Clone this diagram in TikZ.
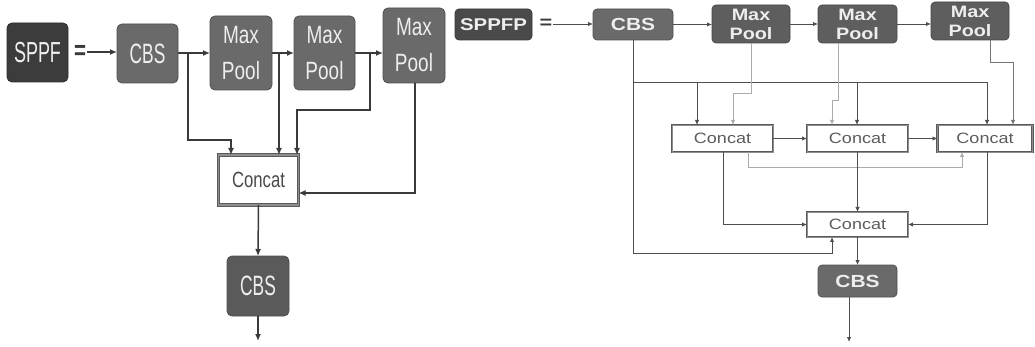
\documentclass[tikz,border=0pt]{standalone}
\usepackage{fontspec}
\usetikzlibrary{arrows.meta,calc}
\newfontfamily\lfont[FakeStretch=0.76]{Liberation Sans}
\newfontfamily\lfontn[FakeStretch=0.62]{Liberation Sans}
\newfontfamily\rfont[FakeStretch=1.2]{Liberation Sans}
\definecolor{darkbox}{HTML}{3C3C3C}
\definecolor{midbox}{HTML}{6A6A6A}
\definecolor{rdark}{HTML}{4A4A4A}
\definecolor{rmid}{HTML}{5E5E5E}
\definecolor{boxtext}{HTML}{EEEEEE}
\definecolor{lineblk}{HTML}{3A3A3A}
\definecolor{linegray}{HTML}{ABABAB}
\definecolor{cbord}{HTML}{5A5A5A}
\definecolor{cinner}{HTML}{8E8E8E}
\definecolor{ctext}{HTML}{4A4A4A}
\begin{document}
\begin{tikzpicture}[x=1pt,y=-1pt,
  every node/.style={inner sep=0pt, outer sep=0pt, align=center},
  lbox/.style={rounded corners=5pt, fill=midbox, draw=midbox!75!black, line width=0.8pt, text=boxtext,
    font=\lfont\fontsize{25}{36}\selectfont},
  ldarkbox/.style={lbox, fill=darkbox, draw=darkbox!75!black, font=\lfontn\fontsize{29}{30}\selectfont},
  lconcat/.style={draw=cbord, line width=1.2pt, double=cinner, double distance=1.4pt, fill=white, text=ctext,
    font=\lfont\fontsize{22}{26}\selectfont},
  rbox/.style={rounded corners=4pt, fill=rmid, draw=rmid!75!black, line width=0.7pt, text=boxtext,
    font=\rfont\bfseries\fontsize{16.5}{19}\selectfont},
  rcbs/.style={rbox, fill=midbox, draw=midbox!75!black, font=\rfont\bfseries\fontsize{17.5}{20}\selectfont},
  rdarkbox/.style={rbox, fill=rdark, draw=rdark!75!black, font=\rfont\bfseries\fontsize{17}{20}\selectfont},
  rconcat/.style={draw=cbord, line width=0.9pt, double=cinner, double distance=0.8pt, fill=white, text=ctext!90!white,
    font=\rfont\fontsize{15}{17}\selectfont},
  eqsign/.style={inner sep=1pt, text=lineblk},
  lline/.style={draw=lineblk, line width=1.5pt},
  larrow/.style={lline, -{Latex[length=7pt,width=6pt]}},
  rline/.style={draw=lineblk!90!white, line width=0.9pt},
  rarrow/.style={rline, -{Latex[length=5pt,width=4.5pt]}},
  rgray/.style={draw=linegray, line width=0.9pt, -{Latex[length=5pt,width=4.5pt]}}
]
\useasboundingbox (0,0) rectangle (1035,347);
\fill[white] (0,0) rectangle (1035,347);

% ---------------- left panel: SPPF ----------------
\node[ldarkbox, minimum width=61, minimum height=59] (sppf) at (37.5,52.5) {SPPF};
\node[eqsign, font=\lfont\bfseries\fontsize{27}{30}\selectfont] (eqL) at (80,52) {=};
\node[lbox, font=\lfontn\fontsize{28}{30}\selectfont, minimum width=61, minimum height=59] (cbsL) at (147.5,53.5) {CBS};
\node[lbox, minimum width=62, minimum height=74] (mp1L) at (241,53) {Max\\Pool};
\node[lbox, minimum width=61, minimum height=74] (mp2L) at (324.5,53) {Max\\Pool};
\node[lbox, minimum width=62, minimum height=75] (mp3L) at (414,45.5) {Max\\Pool};
\node[lconcat, minimum width=80, minimum height=50] (concatL) at (258.5,180) {Concat};
\node[lbox, font=\lfontn\fontsize{28}{30}\selectfont, fill=midbox!85!black, minimum width=62, minimum height=60] (cbsL2) at (258,286) {CBS};
\coordinate (outL) at (258,341);

\coordinate (jL1) at (188,53);
\coordinate (jL2) at (279,53);
\coordinate (jL3) at (370,53);

\draw[larrow] (eqL.east) -- (eqL.east -| cbsL.west);
\draw[larrow] (cbsL.east |- jL1) -- (jL1 -| mp1L.west);
\draw[larrow] (mp1L.east |- jL2) -- (jL2 -| mp2L.west);
\draw[larrow] (mp2L.east |- jL3) -- (jL3 -| mp3L.west);
\draw[larrow] (jL1) -- (188,140) -- (231,140) -- (231,0 |- concatL.north);
\draw[larrow] (jL2) -- (jL2 |- concatL.north);
\draw[larrow] (jL3) -- (370,110) -- (297,110) -- (297,0 |- concatL.north);
\draw[larrow] (mp3L.south -| 415,0) -- (415,193) -- (concatL.east |- 0,193);
\draw[larrow] (concatL.south) -- (cbsL2.north);
\draw[larrow] (cbsL2.south) -- (outL);

% ---------------- right panel: SPPFP ----------------
\node[rdarkbox, minimum width=77, minimum height=31] (sppfp) at (493.5,24.5) {SPPFP};
\node[eqsign, font=\rfont\bfseries\fontsize{18}{20}\selectfont] (eqR) at (546,24) {=};
\node[rcbs, minimum width=80, minimum height=31] (cbsR) at (633,24.5) {CBS};
\node[rbox, minimum width=78, minimum height=38] (mp1R) at (751,24) {Max\\Pool};
\node[rbox, minimum width=79, minimum height=38] (mp2R) at (857.5,24) {Max\\Pool};
\node[rbox, minimum width=78, minimum height=38] (mp3R) at (970,21) {Max\\Pool};
\node[rconcat, minimum width=101, minimum height=27] (c1) at (722.5,138.5) {Concat};
\node[rconcat, minimum width=101, minimum height=27] (c2) at (857.5,138.5) {Concat};
\node[rconcat, minimum width=95, minimum height=27] (c3) at (985,138.5) {Concat};
\node[rconcat, minimum width=101, minimum height=25] (c4) at (857.5,224.5) {Concat};
\node[rcbs, minimum width=79, minimum height=32] (cbsR2) at (857.5,281) {CBS};
\coordinate (outR) at (849,342);

\draw[rarrow] (eqR.east) -- (eqR.east -| cbsR.west);
\draw[rarrow] (cbsR.east) -- (cbsR.east -| mp1R.west);
\draw[rarrow] (mp1R.east) -- (mp1R.east -| mp2R.west);
\draw[rarrow] (mp2R.east |- 0,24) -- (mp3R.west |- 0,24);

% CBS trunk
\coordinate (jR) at (633,82);
\draw[rline] (cbsR.south) -- (jR) -- (987,82);
\draw[rarrow] (697,82) -- (697,0 |- c1.north);
\draw[rarrow] (857,82) -- (857,0 |- c2.north);
\draw[rarrow] (987,82) -- (987,0 |- c3.north);
\draw[rarrow] (jR) -- (633,253) -- (832,253) -- (832,0 |- c4.south);

% max pool outputs
\draw[rgray] (mp1R.south) -- (751,93) -- (733,93) -- (733,0 |- c1.north);
\draw[rgray] (838,0 |- mp2R.south) -- (838,100) -- (832,100) -- (832,0 |- c2.north);
\draw[rarrow, draw=lineblk!70!white] (990,0 |- mp3R.south) -- (990,62) -- (1013,62) -- (1013,0 |- c3.north);

% concat chain
\draw[rarrow] (c1.east) -- (c2.west);
\draw[rarrow] (c2.east) -- (c3.west);
\draw[rgray] (748,0 |- c1.south) -- (748,167) -- (962,167) -- (962,0 |- c3.south);
\draw[rarrow] (723,0 |- c1.south) -- (723,224.5) -- (c4.west);
\draw[rarrow] (c2.south) -- (c4.north);
\draw[rarrow] (987,0 |- c3.south) -- (987,224.5) -- (c4.east);
\draw[rarrow] (c4.south) -- (cbsR2.north);
\draw[rarrow] (cbsR2.south -| outR) -- (outR);
\end{tikzpicture}
\end{document}
